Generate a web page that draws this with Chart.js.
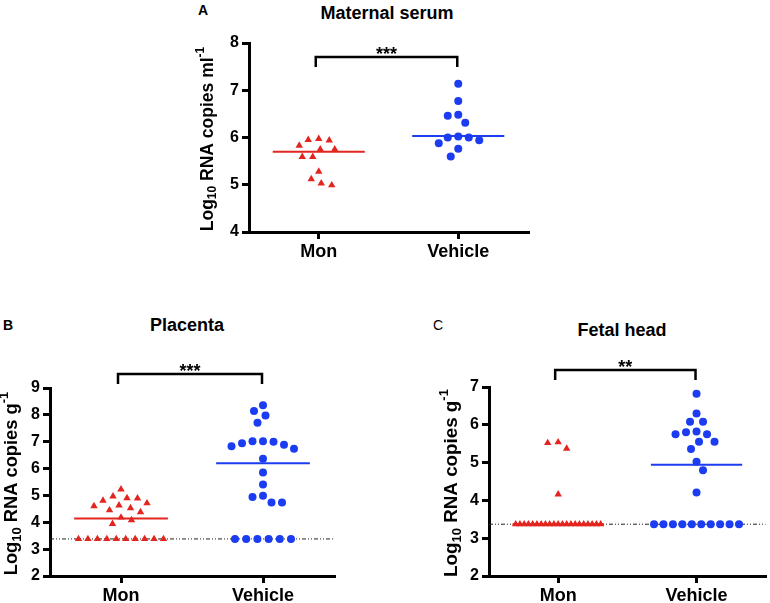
<!DOCTYPE html>
<html>
<head>
<meta charset="utf-8">
<script src="https://cdn.jsdelivr.net/npm/chart.js@4/dist/chart.umd.min.js"></script>
<style>
  body { margin: 0; background: #fff; width: 770px; height: 603px; position: relative; overflow: hidden;
         font-family: "Liberation Sans", Arial, sans-serif; }
  canvas { position: absolute; }
  .t { position: absolute; transform: translate(-50%, -50%); line-height: 1; white-space: nowrap; color: #000; }
  .title { font-size: 18px; font-weight: bold; }
  .letter { font-size: 14px; font-weight: bold; }
</style>
</head>
<body>
<div class="t letter" style="left:203px;top:10px">A</div>
<div class="t title" style="left:387px;top:13px">Maternal serum</div>
<div class="t letter" style="left:8px;top:325px">B</div>
<div class="t title" style="left:187px;top:325px">Placenta</div>
<div class="t letter" style="left:438px;top:325px;font-weight:normal">C</div>
<div class="t title" style="left:622px;top:330px">Fetal head</div>

<canvas id="panelA" width="360" height="270" style="left:180px;top:0px"></canvas>
<canvas id="panelB" width="345" height="313" style="left:0px;top:290px"></canvas>
<canvas id="panelC" width="340" height="313" style="left:430px;top:290px"></canvas>

<script>
// groups
const categories = ["Mon", "Vehicle"];

// A - maternal serum, log10 RNA copies per ml
const serumMon = [5.97, 5.94, 5.83, 5.95, 5.75, 5.75, 5.59, 5.59, 5.28, 5.12, 4.99, 5.03];
const serumVehicle = [7.14, 6.77, 6.48, 6.46, 6.31, 6.00, 5.94, 6.02, 6.00, 5.88, 5.76, 5.60];
const serumMedian = [5.70, 6.03];

// B - placenta, log10 RNA copies per g
const placentaMon = [5.23, 4.97, 4.89, 4.81, 4.90, 4.63, 4.60, 4.71, 4.53, 4.45, 4.38, 4.18, 4.08, 3.94,
  3.38, 3.38, 3.38, 3.38, 3.38, 3.38, 3.38, 3.38, 3.38, 3.38];
const placentaVehicle = [8.36, 8.14, 7.98, 7.71, 7.02, 7.00, 6.89, 6.74, 6.83, 6.94, 7.02, 6.37, 5.85, 5.41,
  4.99, 4.74, 4.74, 4.94, 3.38, 3.38, 3.38, 3.38, 3.38, 3.38];
const placentaMedian = [4.14, 6.20];
const placentaLimit = 3.38;

// C - fetal head, log10 RNA copies per g
const headMon = [5.52, 5.54, 5.37, 4.16,
  3.37, 3.37, 3.37, 3.37, 3.37, 3.37, 3.37, 3.37, 3.37, 3.37, 3.37,
  3.37, 3.37, 3.37, 3.37, 3.37, 3.37, 3.37, 3.37, 3.37, 3.37];
const headVehicle = [6.82, 6.30, 6.08, 6.08, 5.80, 5.75, 5.75, 5.82, 5.55, 5.55, 5.36, 5.02, 4.80, 4.21,
  3.37, 3.37, 3.37, 3.37, 3.37, 3.37, 3.37, 3.37, 3.37, 3.37];
const headMedian = [3.37, 4.94];
const headLimit = 3.37;

const FONT = '"Liberation Sans", Arial, sans-serif';
const RED = "#e2261f";
const BLUE = "#1b3cf0";
Chart.defaults.font.family = FONT;
Chart.defaults.color = "#000";

// brackets, stars and the rotated y title with sub/superscript
const deco = {
  id: "deco",
  afterDraw(chart, args, o) {
    const { ctx, chartArea: a, scales: { x } } = chart;
    const x0 = x.getPixelForValue(0) - 3, x1 = x.getPixelForValue(1) - 1;
    const by = a.top + o.bracketDy;
    ctx.save();
    ctx.strokeStyle = "#000";
    ctx.lineWidth = 2.5;
    ctx.beginPath();
    ctx.moveTo(x0, by + 10); ctx.lineTo(x0, by); ctx.lineTo(x1, by); ctx.lineTo(x1, by + 10);
    ctx.stroke();
    ctx.fillStyle = "#000";
    ctx.font = "bold 18px " + FONT;
    ctx.textAlign = "center";
    ctx.textBaseline = "alphabetic";
    ctx.fillText(o.stars, (x0 + x1) / 2, by + 3);

    const s = o.labelSize, small = Math.round(s * 0.7);
    const parts = [["Log", s, 0], ["10", small, s * 0.28], [" RNA copies " + o.unit, s, 0], ["-1", small, -s * 0.4]];
    let total = 0;
    parts.forEach(p => { ctx.font = "bold " + p[1] + "px " + FONT; p.push(ctx.measureText(p[0]).width); total += p[3]; });
    ctx.translate(a.left - o.labelDx, (a.top + a.bottom) / 2 + 1.5);
    ctx.rotate(-Math.PI / 2);
    ctx.textAlign = "left";
    ctx.textBaseline = "middle";
    let cx = -total / 2;
    parts.forEach(p => {
      ctx.font = "bold " + p[1] + "px " + FONT;
      ctx.fillText(p[0], cx, p[2]);
      cx += p[3];
    });
    ctx.restore();
  }
};

// spread points of one group sideways so they don't overlap
function swarm(chart, values, cat) {
  const sx = chart.scales.x, sy = chart.scales.y;
  const cx = sx.getPixelForValue(cat);
  const pts = values.map(v => ({ v, py: sy.getPixelForValue(v), px: null }));
  const placed = [];
  const groups = new Map();
  pts.forEach(p => { if (!groups.has(p.v)) groups.set(p.v, []); groups.get(p.v).push(p); });
  groups.forEach(g => {
    if (g.length < 3) return;
    const gap = Math.min(11.2, 85 / (g.length - 1));
    g.forEach((p, i) => { p.px = cx + (i - (g.length - 1) / 2) * gap; placed.push(p); });
  });
  const minD = 10.5;
  pts.filter(p => p.px === null).sort((a, b) => a.py - b.py).forEach((p, n) => {
    for (let k = 0; k < 400; k++) {
      const d = k * 0.5;
      const cands = n % 2 ? [cx - d, cx + d] : [cx + d, cx - d];
      const ok = cands.find(c => placed.every(q => (q.px - c) ** 2 + (q.py - p.py) ** 2 >= minD * minD));
      if (ok !== undefined) { p.px = ok; break; }
    }
    placed.push(p);
  });
  return pts.map(p => ({ x: sx.getValueForPixel(p.px), y: p.v }));
}

function makePanel(id, p) {
  const datasets = [
    { type: "scatter", data: p.mon.map(v => ({ x: 0, y: v })), pointStyle: "triangle", pointRadius: 4.3,
      backgroundColor: RED, borderWidth: 0, clip: false },
    { type: "scatter", data: p.vehicle.map(v => ({ x: 1, y: v })), pointStyle: "circle", pointRadius: 4,
      backgroundColor: BLUE, borderWidth: 0, clip: false },
    { type: "line", data: [{ x: -0.33, y: p.median[0] }, { x: 0.33, y: p.median[0] }],
      borderColor: RED, borderWidth: 2, pointRadius: 0 },
    { type: "line", data: [{ x: 0.67, y: p.median[1] }, { x: 1.33, y: p.median[1] }],
      borderColor: BLUE, borderWidth: 2, pointRadius: 0 }
  ];
  if (p.limit !== undefined) {
    datasets.push({ type: "line", data: [{ x: -0.5, y: p.limit }, { x: 1.5, y: p.limit }],
      borderColor: "#222", borderWidth: 1, borderDash: [4, 2, 1, 2, 1, 2], pointRadius: 0 });
  }
  const chart = new Chart(document.getElementById(id), {
    data: { datasets },
    plugins: [deco],
    options: {
      responsive: false,
      animation: false,
      layout: { padding: { left: 0, top: p.top, right: p.right, bottom: 0 } },
      plugins: {
        legend: { display: false },
        tooltip: { enabled: false },
        deco: { bracketDy: p.bracketDy, stars: p.stars, labelDx: p.labelDx, labelSize: p.labelSize, unit: p.unit }
      },
      scales: {
        x: {
          type: "linear", min: -0.5, max: 1.5,
          afterBuildTicks: s => { s.ticks = [{ value: 0 }, { value: 1 }]; },
          ticks: { callback: v => categories[v], font: { size: 18, weight: "bold" }, padding: 2,
                   autoSkip: false, maxRotation: 0 },
          grid: { drawOnChartArea: false, tickLength: 7, lineWidth: 3, color: "#000" },
          border: { width: 3, color: "#000" },
          afterFit: s => { s.height = p.xHeight; }
        },
        y: {
          type: "linear", min: p.yMin, max: p.yMax,
          ticks: { stepSize: 1, font: { size: 16, weight: "bold" }, padding: 3 },
          grid: { drawOnChartArea: false, tickLength: 7, lineWidth: 3, color: "#000" },
          border: { width: 3, color: "#000" },
          afterFit: s => { s.width = p.yWidth; }
        }
      }
    }
  });
  chart.data.datasets[0].data = swarm(chart, p.mon, 0);
  chart.data.datasets[1].data = swarm(chart, p.vehicle, 1);
  chart.update("none");
  return chart;
}

makePanel("panelA", { mon: serumMon, vehicle: serumVehicle, median: serumMedian,
  yMin: 4, yMax: 8, top: 43, right: 12, yWidth: 69, xHeight: 38,
  bracketDy: 14, stars: "***", labelDx: 41, labelSize: 17.5, unit: "ml" });

makePanel("panelB", { mon: placentaMon, vehicle: placentaVehicle, median: placentaMedian, limit: placentaLimit,
  yMin: 2, yMax: 9, top: 98, right: 11, yWidth: 50, xHeight: 27,
  bracketDy: -14, stars: "***", labelDx: 38, labelSize: 18.3, unit: "g" });

makePanel("panelC", { mon: headMon, vehicle: headVehicle, median: headMedian, limit: headLimit,
  yMin: 2, yMax: 7, top: 97, right: 2, yWidth: 59, xHeight: 27,
  bracketDy: -17, stars: "**", labelDx: 37, labelSize: 18.8, unit: "g" });
</script>
</body>
</html>
